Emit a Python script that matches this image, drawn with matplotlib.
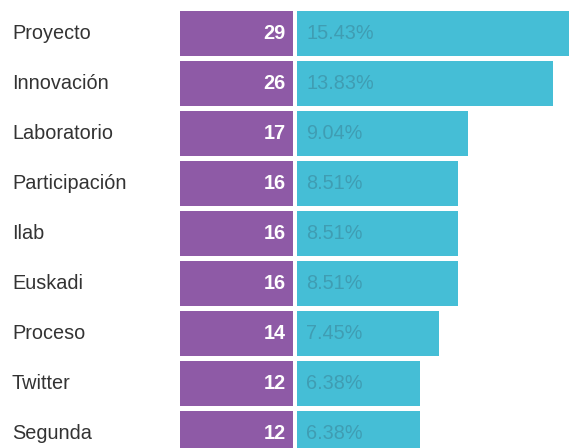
import matplotlib
matplotlib.use("Agg")
import matplotlib.pyplot as plt

categories = ["Proyecto", "Innovación", "Laboratorio", "Participación", "Ilab",
              "Euskadi", "Proceso", "Twitter", "Segunda"]
counts = [29, 26, 17, 16, 16, 16, 14, 12, 12]
percents = ["15.43%", "13.83%", "9.04%", "8.51%", "8.51%", "8.51%", "7.45%", "6.38%", "6.38%"]

W, H = 569, 448
fig = plt.figure(figsize=(W / 100, H / 100), dpi=100)
ax = fig.add_axes([0, 0, 1, 1])
ax.set_axis_off()

PX = 9.5          # pixels per unit
X0 = 306          # pixel of value 0
ROW0, PITCH = 33.5, 50

def xu(p):
    return (p - X0) / PX

ax.set_xlim(xu(0), xu(W))
ax.set_ylim((H - ROW0) / PITCH, -ROW0 / PITCH)

purple = "#8e5aa6"
cyan = "#45bed6"
pct_color = "#3f9db3"
bh = 45 / PITCH

ys = list(range(len(categories)))
cyan_left = xu(297)
ax.barh(ys, [c - cyan_left for c in counts], left=cyan_left, height=bh, color=cyan, linewidth=0)
ax.barh(ys, [xu(293) - xu(180)] * len(ys), left=xu(180), height=bh, color=purple, linewidth=0)

fs = 14.3
for y, cat, c, p in zip(ys, categories, counts, percents):
    ax.text(xu(12), y, cat, ha="left", va="center", fontsize=fs, color="#333333",
            family="Liberation Sans")
    ax.text(xu(286), y, str(c), ha="right", va="center", fontsize=fs, color="white",
            fontweight="bold", family="Liberation Sans")
    ax.text(xu(306), y, p, ha="left", va="center", fontsize=fs, color=pct_color,
            family="Liberation Sans")

fig.savefig("out.png", dpi=100)
